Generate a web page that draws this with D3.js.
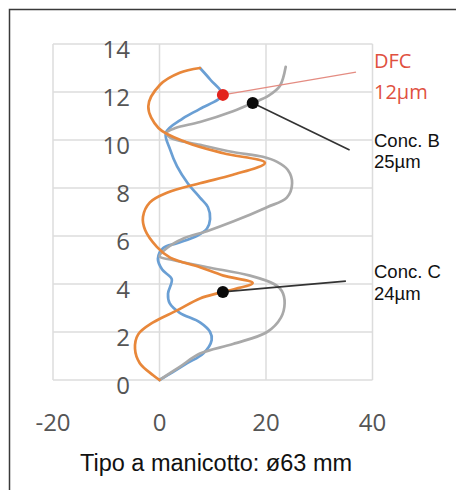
<!DOCTYPE html>
<html>
<head>
<meta charset="utf-8">
<script src="https://cdn.jsdelivr.net/npm/d3@7"></script>
<style>
  body { margin: 0; background: #fff; }
  svg { display: block; }
</style>
</head>
<body>
<div id="chart"></div>
<script>
// data (x = micron, y = position)
var xTicks = [-20, 0, 20, 40]
var yTicks = [0, 2, 4, 6, 8, 10, 12, 14]

var blueX = [0, 2.5, 5.2, 8.2, 9.8, 9.5, 7.6, 3.8, 1.9, 1.6, 2.3, 0.5, -0.3, 0.7, 3.3, 7.0, 8.9, 9.5, 9.1, 7.6, 5.3, 3.3, 2.0, 1.2, 4.4, 7.6, 11.8, 9.6, 7.6]
var blueY = [0, 0.33, 0.7, 1.1, 1.67, 2.0, 2.4, 2.8, 3.2, 3.6, 4.2, 4.6, 5.05, 5.5, 5.7, 6.0, 6.3, 6.7, 7.2, 7.6, 8.2, 8.9, 9.6, 10.3, 10.9, 11.3, 11.88, 12.5, 13.0]

var grayX = [0, 3.8, 7.6, 13.8, 20.2, 22.8, 23.5, 23.0, 21.5, 17, 9, 2.5, 0, 1.4, 4.5, 8.9, 13.8, 20.2, 23.9, 24.9, 24.1, 22, 19.4, 13.8, 7.6, 2, 1.3, 3, 7.6, 13.8, 17.5, 20.5, 22.6, 23.7]
var grayY = [0, 0.55, 1.1, 1.5, 2.0, 2.6, 3.2, 3.7, 4.0, 4.35, 4.7, 5.0, 5.15, 5.5, 5.9, 6.2, 6.6, 7.2, 7.6, 8.2, 8.75, 9.1, 9.3, 9.5, 9.8, 10.1, 10.3, 10.5, 10.75, 11.2, 11.54, 11.85, 12.25, 13.05]

var orangeX = [0, -1.2, -3.7, -4.6, -4.0, -1.2, 3.3, 7.6, 11.9, 17.5, 12, 7.6, 2, -0.5, -2.7, -3.1, -1.8, 1.4, 7.6, 13.8, 19.8, 12, 5.1, -0.2, -2.1, 0.1, 3.8, 7.6]
var orangeY = [0, 0.2, 0.7, 1.3, 1.9, 2.4, 2.9, 3.4, 3.67, 4.04, 4.35, 4.7, 5.1, 5.55, 6.25, 6.8, 7.4, 7.8, 8.2, 8.55, 9.05, 9.45, 9.9, 10.5, 11.4, 12.3, 12.8, 13.0]

// callouts: marker point and end of leader line
var calloutNames = ["DFC", "Conc. B", "Conc. C"]
var calloutValues = ["12µm", "25µm", "24µm"]
var markX = [11.9, 17.5, 11.9]
var markY = [11.88, 11.54, 3.67]
var leaderX = [36.9, 35.7, 35.0]
var leaderY = [12.83, 9.58, 4.12]

var title = "Tipo a manicotto: ø63 mm"

var width = 456, height = 490

var svg = d3.select("#chart")
  .append("svg")
    .attr("width", width)
    .attr("height", height)

// frame (runs off the right and bottom edges)
svg.append("rect")
  .attr("x", 9.5).attr("y", 9.5)
  .attr("width", 520).attr("height", 520)
  .attr("fill", "none")
  .attr("stroke", "#3a3a3a")
  .attr("stroke-width", 1.5)

var x = d3.scaleLinear().domain([-20, 40]).range([53, 372.5])
var y = d3.scaleLinear().domain([0, 14]).range([380, 44])

// gridlines
svg.append("g")
  .selectAll("line")
  .data(yTicks).enter()
  .append("line")
    .attr("x1", x(-20)).attr("x2", x(40))
    .attr("y1", function(d) { return y(d) }).attr("y2", function(d) { return y(d) })
    .attr("stroke", "#dcdcdc").attr("stroke-width", 1.5)

svg.append("g")
  .selectAll("line")
  .data(xTicks).enter()
  .append("line")
    .attr("y1", y(0)).attr("y2", y(14))
    .attr("x1", function(d) { return x(d) }).attr("x2", function(d) { return x(d) })
    .attr("stroke", "#dcdcdc").attr("stroke-width", 1.5)

// tick labels
svg.append("g")
  .selectAll("text")
  .data(yTicks).enter()
  .append("text")
    .attr("x", 130)
    .attr("y", function(d) { return y(d) + 14 })
    .attr("text-anchor", "end")
    .style("font-family", "'Open Sans', sans-serif")
    .style("font-size", "24px")
    .style("fill", "#555")
    .text(function(d) { return d })

svg.append("g")
  .selectAll("text")
  .data(xTicks).enter()
  .append("text")
    .attr("x", function(d) { return x(d) })
    .attr("y", 431)
    .attr("text-anchor", "middle")
    .style("font-family", "'Open Sans', sans-serif")
    .style("font-size", "24px")
    .style("fill", "#555")
    .text(function(d) { return d })

// series
var line = d3.line()
  .x(function(d) { return x(d[0]) })
  .y(function(d) { return y(d[1]) })
  .curve(d3.curveCatmullRom.alpha(0.5))

var series = [
  { xs: blueX, ys: blueY, color: "#6a9fd4" },
  { xs: grayX, ys: grayY, color: "#a9a9a9" },
  { xs: orangeX, ys: orangeY, color: "#e8873a" }
]

series.forEach(function(s) {
  svg.append("path")
    .datum(d3.zip(s.xs, s.ys))
    .attr("d", line)
    .attr("fill", "none")
    .attr("stroke", s.color)
    .attr("stroke-width", 2.7)
    .attr("stroke-linejoin", "round")
    .attr("stroke-linecap", "round")
})

// leader lines + markers
var leaderColors = ["#e48c82", "#333", "#333"]
var markColors = ["#e3231c", "#0a0a0a", "#0a0a0a"]

svg.append("g")
  .selectAll("line")
  .data(markX).enter()
  .append("line")
    .attr("x1", function(d, i) { return x(markX[i]) })
    .attr("y1", function(d, i) { return y(markY[i]) })
    .attr("x2", function(d, i) { return x(leaderX[i]) })
    .attr("y2", function(d, i) { return y(leaderY[i]) })
    .attr("stroke", function(d, i) { return leaderColors[i] })
    .attr("stroke-width", function(d, i) { return i == 0 ? 1.3 : 1.6 })

svg.append("g")
  .selectAll("circle")
  .data(markX).enter()
  .append("circle")
    .attr("cx", function(d, i) { return x(markX[i]) })
    .attr("cy", function(d, i) { return y(markY[i]) })
    .attr("r", 6)
    .style("fill", function(d, i) { return markColors[i] })

// callout text
var labelY = [[68, 99], [147, 168], [278, 300]]
calloutNames.forEach(function(name, i) {
  var red = i == 0
  var t = svg.append("text")
    .attr("x", 374)
    .style("font-family", red ? "'Open Sans', sans-serif" : "'Liberation Sans', Arial, sans-serif")
    .style("font-size", red ? "20px" : "18.5px")
    .style("fill", red ? "#e0503f" : "#111")
  t.append("tspan").attr("x", 374).attr("y", labelY[i][0]).text(name)
  t.append("tspan").attr("x", 374).attr("y", labelY[i][1]).text(calloutValues[i])
})

// title
svg.append("text")
  .attr("x", 216)
  .attr("y", 471)
  .attr("text-anchor", "middle")
  .style("font-family", "'Liberation Sans', Arial, sans-serif")
  .style("font-size", "23.5px")
  .style("fill", "#111")
  .text(title)
</script>
</body>
</html>
